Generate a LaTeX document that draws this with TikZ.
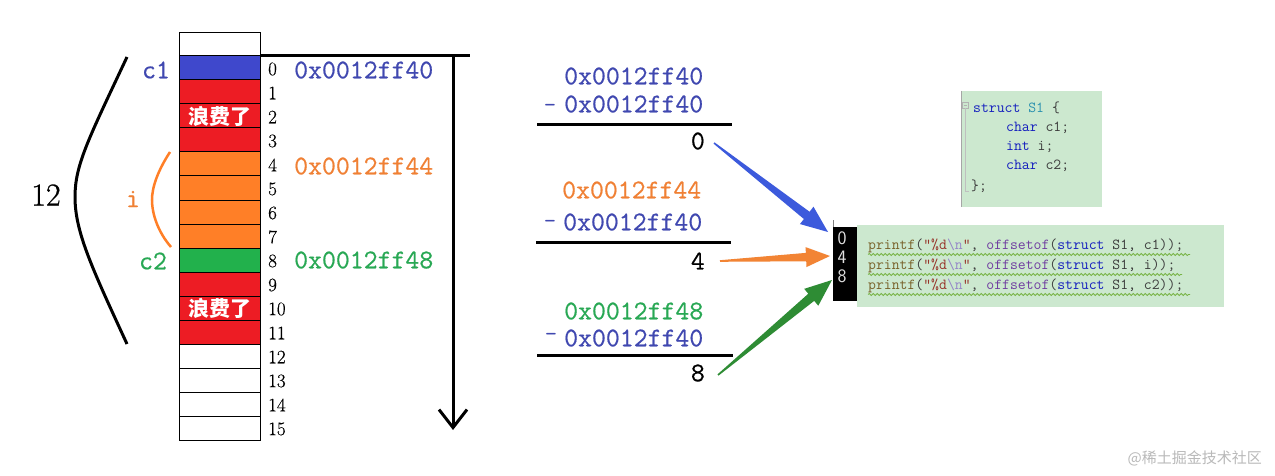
\documentclass[tikz,border=0pt]{standalone}
\usepackage{fontspec}
\newfontfamily\cjk{Noto Sans CJK SC}
\newfontfamily\addrf{Latin Modern Mono}[FakeBold=0.6]
\newfontfamily\romf{Latin Modern Roman}[FakeBold=0.8]
\newfontfamily\idxf{Latin Modern Roman}[FakeBold=0.4]
\usetikzlibrary{calc,arrows.meta,decorations.pathmorphing}
\definecolor{pblue}{RGB}{63,72,204}
\definecolor{pred}{RGB}{237,28,36}
\definecolor{porange}{RGB}{255,127,39}
\definecolor{pgreen}{RGB}{34,177,76}
\definecolor{tblue}{RGB}{64,72,176}
\definecolor{torange}{RGB}{240,128,52}
\definecolor{tgreen}{RGB}{40,168,84}
\definecolor{ablue}{RGB}{60,90,220}
\definecolor{aorange}{RGB}{242,132,52}
\definecolor{agreen}{RGB}{46,140,52}
\definecolor{codebg}{RGB}{204,232,207}
\definecolor{kw}{RGB}{20,30,190}
\definecolor{cteal}{RGB}{43,145,175}
\definecolor{cfn}{RGB}{120,96,40}
\definecolor{cstr}{RGB}{150,50,40}
\definecolor{cesc}{RGB}{150,135,200}
\definecolor{cmac}{RGB}{111,60,160}
\definecolor{cdk}{RGB}{60,60,60}
\definecolor{squig}{RGB}{120,180,70}
\newcommand{\taper}[5]{% tail, tip, colour, head length, head half width
  \path coordinate (hb) at ($(#2)!#4!(#1)$);
  \fill[#3] ($(#1)!0.8pt!90:(#2)$) -- ($(hb)!0.42*#5!90:(#2)$) -- ($(hb)!#5!90:(#2)$) -- (#2)
    -- ($(hb)!#5!-90:(#2)$) -- ($(hb)!0.42*#5!-90:(#2)$) -- ($(#1)!0.8pt!-90:(#2)$) -- cycle;}
\begin{document}
\begin{tikzpicture}[x=1pt,y=-1pt,
  cell/.style={draw=black,line width=1pt,minimum width=81pt,minimum height=24pt,inner sep=0pt,outer sep=0pt},
  idx/.style={anchor=west,inner sep=0pt,font=\idxf\fontsize{19}{19}\selectfont},
  addr/.style={anchor=west,inner sep=0pt,font=\addrf\fontsize{27}{27}\selectfont},
  lab/.style={inner sep=0pt,font=\addrf\fontsize{27}{27}\selectfont},
  res/.style={anchor=east,inner sep=0pt,font=\addrf\fontsize{27}{27}\selectfont},
  minus/.style={anchor=base,inner sep=0pt,font=\ttfamily\fontsize{24}{24}\selectfont,text=tblue},
  waste/.style={inner sep=0pt,text=white,font=\cjk\bfseries\fontsize{21}{21}\selectfont},
  thickline/.style={line width=3pt},
  code/.style={anchor=west,inner sep=0pt,font=\ttfamily\fontsize{15.3}{15.3}\selectfont},
  box/.style={fill=codebg,draw=none,inner sep=0pt,outer sep=0pt},
  wavy/.style={squig,line width=0.8pt,decorate,decoration={snake,amplitude=1pt,segment length=4pt}}
]
\useasboundingbox (0,0) rectangle (1275,476);
\fill[white] (0,0) rectangle (1275,476);

% memory column
\node[cell,minimum height=23pt] (ctop) at (219.5,44.5) {};
\foreach \i/\c in {0/pblue,1/pred,2/pred,3/pred,4/porange,5/porange,6/porange,7/porange,8/pgreen,9/pred,10/pred,11/pred,12/white,13/white,14/white,15/white}
  \node[cell,fill=\c] (c\i) at (219.5,{68+24*\i}) {};
\node[waste] (w1) at (c2) {浪费了};
\node[waste] (w2) at (c10) {浪费了};
\foreach \i in {0,...,15}
  \node[idx] (n\i) at ($(c\i.east)+(8,1)$) {\i};

% labels
\node[lab,text=tblue] (lc1) at (156,70) {c1};
\node[lab,text=tgreen] (lc2) at (153,261) {c2};
\node[lab,text=torange] (li) at (133,199) {i};
\node[inner sep=0pt,text=black,font=\romf\fontsize{32}{32}\selectfont] (l12) at (46,195) {12};

% brackets
\coordinate (bt) at (127,57);
\coordinate (bm) at (75,197);
\coordinate (bb) at (127,344);
\draw[thickline] (bt) .. controls (88,140) and (75,165) .. (bm) .. controls (75,232) and (92,268) .. (bb);
\coordinate (ot) at (170,152);
\coordinate (om) at (152,200);
\coordinate (ob) at (171,247);
\draw[line width=2.5pt,porange] (ot) .. controls (157,172) and (152,188) .. (om) .. controls (152,214) and (158,232) .. (ob);

% addresses
\node[addr,text=tblue] (ad0) at (294,70) {0x0012ff40};
\node[addr,text=torange] (ad4) at (294,166) {0x0012ff44};
\node[addr,text=tgreen] (ad8) at (294,260) {0x0012ff48};

% offset axis
\coordinate (hend) at (470,56);
\coordinate (vtop) at (453,56);
\coordinate (vbot) at (453,430);
\draw[thickline] (c0.north east) -- (hend);
\draw[thickline,-{Straight Barb[length=18pt,width=28pt,line width=3pt]}] (vtop) -- (vbot);

% subtractions
\node[addr,text=tblue] (s1a) at (564,76) {0x0012ff40};
\node[minus] (m1) at (550,113) {-};
\node[addr,text=tblue] (s1b) at (564,104) {0x0012ff40};
\coordinate (l1a) at (537,125); \coordinate (l1b) at (732,125);
\draw[thickline] (l1a) -- (l1b);
\node[res] (r0) at (705,141) {0};

\node[addr,text=torange] (s2a) at (562,190) {0x0012ff44};
\node[minus] (m2) at (550,228) {-};
\node[addr,text=tblue] (s2b) at (563,222) {0x0012ff40};
\coordinate (l2a) at (536,242); \coordinate (l2b) at (731,242);
\draw[thickline] (l2a) -- (l2b);
\node[res] (r4) at (705,261) {4};

\node[addr,text=tgreen] (s3a) at (564,311) {0x0012ff48};
\node[minus] (m3) at (551,341) {-};
\node[addr,text=tblue] (s3b) at (564,338) {0x0012ff40};
\coordinate (l3a) at (537,355); \coordinate (l3b) at (733,355);
\draw[thickline] (l3a) -- (l3b);
\node[res] (r8) at (705,373) {8};

% struct box
\node[box,minimum width=141pt,minimum height=116pt,anchor=north west] (sb) at (961,91) {};
\draw[gray!70,line width=0.6pt] (sb.north west) -- (sb.south west);
\draw[gray!60,line width=0.5pt] (962,102) rectangle (968,108);
\draw[gray!60,line width=0.5pt] (963.5,105) -- (966.5,105);
\draw[gray!50,line width=0.5pt] (965,108) -- (965,191) -- (969,191);
\node[code] (st1) at (973,108) {{\color{kw}struct} {\color{cteal}S1} {\color{cdk}\{}};
\node[code] (st2) at (1006,128) {{\color{kw}char} {\color{cdk}c1;}};
\node[code] (st3) at (1006,147) {{\color{kw}int} {\color{cdk}i;}};
\node[code] (st4) at (1006,166) {{\color{kw}char} {\color{cdk}c2;}};
\node[code] (st5) at (971,186) {{\color{cdk}\};}};

% console output
\node[box,fill=black,minimum width=24pt,minimum height=74pt,anchor=north west] (con) at (833,227) {};
\draw[gray,line width=0.6pt] (con.north west) -- ++(0,-7);
\node[inner sep=0pt,text=gray!25,font=\sffamily\fontsize{19}{19}\selectfont] (o0) at (842,238) {0};
\node[inner sep=0pt,text=gray!25,font=\sffamily\fontsize{19}{19}\selectfont] (o4) at (842,257) {4};
\node[inner sep=0pt,text=gray!25,font=\sffamily\fontsize{19}{19}\selectfont] (o8) at (842,276) {8};

% printf box
\node[box,minimum width=367pt,minimum height=82pt,anchor=north west] (pf) at (857,225) {};
\node[code] (p1) at (868,246) {{\color{cfn}printf}{\color{cdk}(}{\color{cstr}"\%d}{\color{cesc}\textbackslash n}{\color{cstr}"}{\color{cdk},} {\color{cmac}offsetof}{\color{cdk}(}{\color{kw}struct} {\color{cdk}S1,} {\color{cdk}c1));}};
\node[code] (p2) at (868,266) {{\color{cfn}printf}{\color{cdk}(}{\color{cstr}"\%d}{\color{cesc}\textbackslash n}{\color{cstr}"}{\color{cdk},} {\color{cmac}offsetof}{\color{cdk}(}{\color{kw}struct} {\color{cdk}S1,} {\color{cdk}i));}};
\node[code] (p3) at (868,286) {{\color{cfn}printf}{\color{cdk}(}{\color{cstr}"\%d}{\color{cesc}\textbackslash n}{\color{cstr}"}{\color{cdk},} {\color{cmac}offsetof}{\color{cdk}(}{\color{kw}struct} {\color{cdk}S1,} {\color{cdk}c2));}};
\draw[wavy] (868,254.5) -- (1190,254.5);
\draw[wavy] (868,274.5) -- (1182,274.5);
\draw[wavy] (868,294.5) -- (1190,294.5);

% tapered arrows from results to the console
\coordinate (t0) at ($(r0.east)+(9,2)$);
\coordinate (k0) at ($(con.north west)+(-5,5)$);
\coordinate (t4) at ($(r4.east)+(15,0)$);
\coordinate (k4) at ($(con.west)+(-3,-8)$);
\coordinate (t8) at ($(r8.east)+(13,2)$);
\coordinate (k8) at ($(con.west)+(-1,16)$);
\taper{t0}{k0}{ablue}{27pt}{11pt}
\taper{t4}{k4}{aorange}{24pt}{10pt}
\taper{t8}{k8}{agreen}{27pt}{11pt}

% watermark
\node[anchor=east,inner sep=0pt,text=gray!55,font=\cjk\fontsize{15}{15}\selectfont] (wm) at (1262,458) {@稀土掘金技术社区};
\end{tikzpicture}
\end{document}
